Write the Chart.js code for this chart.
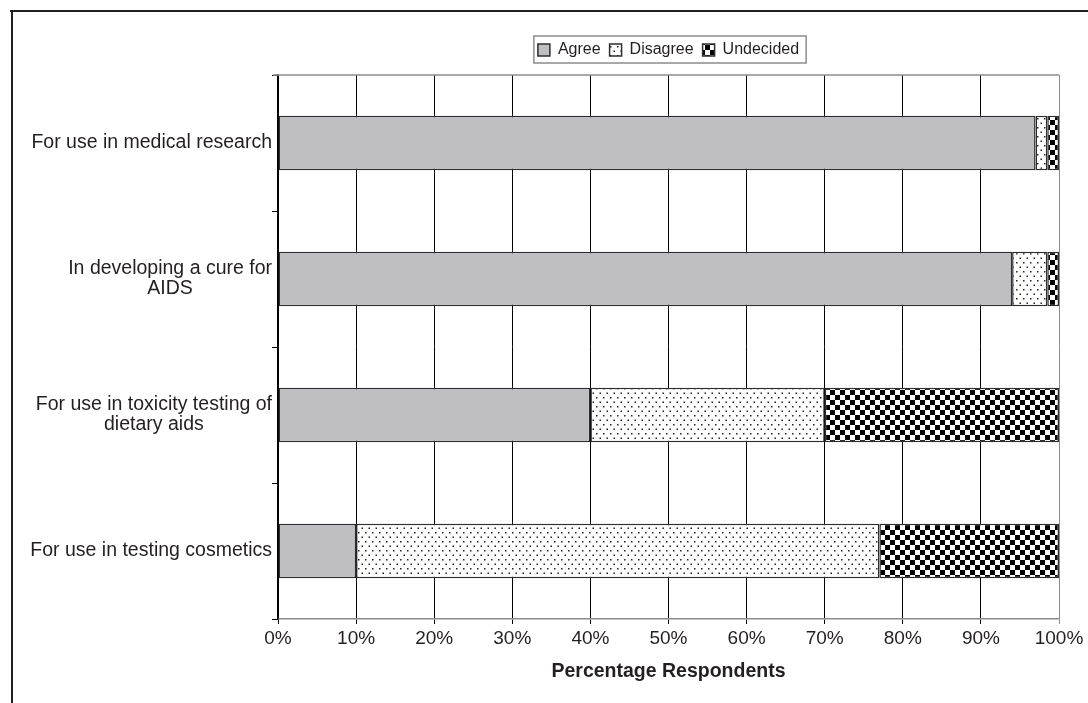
<!DOCTYPE html>
<html>
<head>
<meta charset="utf-8">
<title>Percentage Respondents</title>
<script src="https://cdn.jsdelivr.net/npm/chart.js@4.4.1/dist/chart.umd.min.js"></script>
<style>
  html, body {
    margin: 0;
    padding: 0;
    background: #ffffff;
  }
  #wrap {
    width: 1088px;
    height: 703px;
  }
</style>
</head>
<body>
<div id="wrap">
  <canvas id="surveyChart" width="1088" height="703"></canvas>
</div>
<script>
// Survey answers, one row per use
const categories = [
  ["For use in medical research"],
  ["In developing a cure for", "AIDS"],
  ["For use in toxicity testing of", "dietary aids"],
  ["For use in testing cosmetics"],
];
const agree = [97, 94, 40, 10];
const disagree = [1.5, 4.5, 30, 67];
const undecided = [1.5, 1.5, 30, 23];
const xTicks = [0, 10, 20, 30, 40, 50, 60, 70, 80, 90, 100];

const FONT = "'Liberation Sans', Arial, sans-serif";
const INK = "#231f20";

// Fill patterns for the hatched segments
function dotPattern() {
  let tile = document.createElement("canvas");
  tile.width = 7;
  tile.height = 9;
  let t = tile.getContext("2d");
  t.fillStyle = "#ffffff";
  t.fillRect(0, 0, 7, 9);
  t.fillStyle = "#222222";
  t.fillRect(1, 1, 1.5, 1.5);
  t.fillRect(4.5, 5.5, 1.5, 1.5);
  return document.createElement("canvas").getContext("2d").createPattern(tile, "repeat");
}

function checkerPattern() {
  let tile = document.createElement("canvas");
  tile.width = 10;
  tile.height = 10;
  let t = tile.getContext("2d");
  t.fillStyle = "#ffffff";
  t.fillRect(0, 0, 10, 10);
  t.fillStyle = "#000000";
  t.fillRect(0, 0, 5, 5);
  t.fillRect(5, 5, 5, 5);
  return document.createElement("canvas").getContext("2d").createPattern(tile, "repeat");
}

// Outer frame, top edge of the plot and the legend box
const decorations = {
  id: "decorations",
  beforeDraw(chart) {
    let ctx = chart.ctx;
    ctx.save();
    ctx.fillStyle = "#ffffff";
    ctx.fillRect(0, 0, chart.width, chart.height);
    ctx.strokeStyle = INK;
    ctx.lineWidth = 2;
    ctx.beginPath();
    ctx.moveTo(10, 11);
    ctx.lineTo(chart.width, 11);
    ctx.moveTo(12, 10);
    ctx.lineTo(12, chart.height);
    ctx.stroke();
    ctx.restore();
  },
  afterDraw(chart) {
    let ctx = chart.ctx;
    let area = chart.chartArea;
    ctx.save();
    ctx.strokeStyle = "#8c8c8c";
    ctx.lineWidth = 1.5;
    ctx.beginPath();
    ctx.moveTo(area.left - 5, area.top);
    ctx.lineTo(area.right, area.top);
    ctx.stroke();

    let boxes = chart.legend.legendHitBoxes;
    if (boxes.length) {
      let left = Math.min(...boxes.map((b) => b.left)) - 4;
      let right = Math.max(...boxes.map((b) => b.left + b.width)) + 7;
      let top = boxes[0].top - 6;
      let bottom = boxes[0].top + boxes[0].height + 5;
      ctx.strokeRect(left, top, right - left, bottom - top);
    }
    ctx.restore();
  },
};

// Category names: lines centred on each other, block set against the axis
const categoryLabels = {
  id: "categoryLabels",
  afterDraw(chart) {
    let ctx = chart.ctx;
    let yScale = chart.scales.y;
    let right = chart.chartArea.left - 6;
    ctx.save();
    ctx.font = "19.5px " + FONT;
    ctx.fillStyle = INK;
    ctx.textAlign = "center";
    ctx.textBaseline = "middle";
    categories.forEach(function (lines, i) {
      let y = yScale.getPixelForValue(i);
      let widest = Math.max(...lines.map((l) => ctx.measureText(l).width));
      let x = right - widest / 2;
      lines.forEach(function (line, j) {
        ctx.fillText(line, x, y + (j - (lines.length - 1) / 2) * 20);
      });
    });
    ctx.restore();
  },
};

// Put the legend over the plot rather than over the whole canvas
const legendPlacement = {
  id: "legendPlacement",
  afterLayout(chart) {
    let legend = chart.legend;
    let area = chart.chartArea;
    let dx = (area.left + area.right) / 2 - (legend.left + legend.right) / 2;
    let dy = 42 - (legend.top + legend.options.labels.padding);
    legend.left += dx;
    legend.right += dx;
    legend.top += dy;
    legend.bottom += dy;
  },
};

let ctx = document.getElementById("surveyChart").getContext("2d");

let surveyChart = new Chart(ctx, {
  type: "bar",
  data: {
    labels: categories,
    datasets: [
      {
        label: "Agree",
        data: agree,
        backgroundColor: "#bfbfc3",
        borderColor: "#2e2e2e",
        borderWidth: 1.5,
        borderSkipped: false,
      },
      {
        label: "Disagree",
        data: disagree,
        backgroundColor: dotPattern(),
        borderColor: "#2e2e2e",
        borderWidth: 1.5,
        borderSkipped: false,
      },
      {
        label: "Undecided",
        data: undecided,
        backgroundColor: checkerPattern(),
        borderColor: "#2e2e2e",
        borderWidth: 1.5,
        borderSkipped: false,
      },
    ],
  },
  options: {
    responsive: false,
    animation: false,
    indexAxis: "y",
    layout: {
      padding: { left: 0, right: 29, top: 40, bottom: 0 },
    },
    datasets: {
      bar: {
        barPercentage: 0.4,
        categoryPercentage: 1,
      },
    },
    plugins: {
      legend: {
        position: "top",
        labels: {
          boxWidth: 12,
          boxHeight: 12,
          padding: 9,
          color: INK,
          font: { family: FONT, size: 16 },
        },
      },
      tooltip: { enabled: false },
    },
    scales: {
      x: {
        stacked: true,
        min: 0,
        max: 100,
        afterBuildTicks: function (scale) {
          scale.ticks = xTicks.map((v) => ({ value: v }));
        },
        afterFit: function (scale) {
          scale.height = 84;
        },
        ticks: {
          color: INK,
          padding: 3,
          font: { family: FONT, size: 19 },
          callback: function (value) {
            return value + "%";
          },
        },
        grid: {
          color: function (c) {
            return c.tick && c.tick.value === 100 ? "#8c8c8c" : "#000000";
          },
          lineWidth: 1,
          tickLength: 5,
        },
        border: {
          color: "#8c8c8c",
          width: 1.5,
        },
        title: {
          display: true,
          text: "Percentage Respondents",
          color: INK,
          font: { family: FONT, size: 19.5, weight: "bold" },
          padding: { top: 0, bottom: 20 },
        },
      },
      y: {
        stacked: true,
        afterFit: function (scale) {
          scale.width = 278;
        },
        ticks: {
          display: false,
        },
        grid: {
          offset: true,
          drawOnChartArea: false,
          color: "#000000",
          tickLength: 6,
        },
        border: {
          color: "#000000",
          width: 1.5,
        },
      },
    },
  },
  plugins: [decorations, categoryLabels, legendPlacement],
});
</script>
</body>
</html>
